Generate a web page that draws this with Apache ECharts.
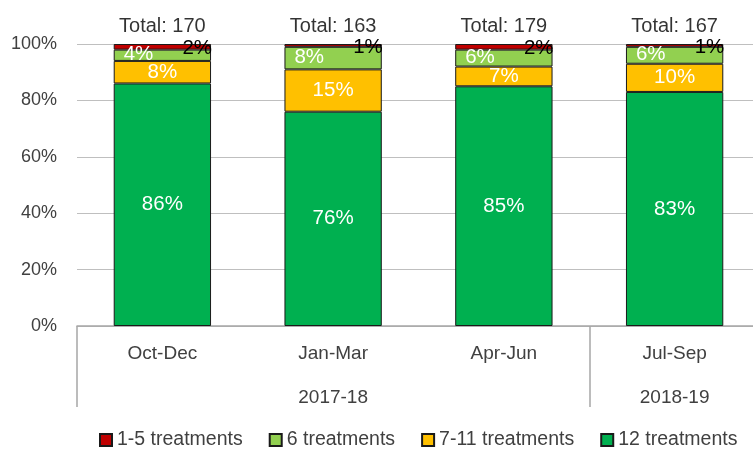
<!DOCTYPE html>
<html><head><meta charset="utf-8">
<script src="https://cdn.jsdelivr.net/npm/echarts@6/dist/echarts.min.js"></script>
<style>html,body{margin:0;padding:0;background:#fff}#c{width:753px;height:450px}</style>
</head><body><div id="c"></div>
<script>
const quarters = ['Oct-Dec', 'Jan-Mar', 'Apr-Jun', 'Jul-Sep'];
const years = ['', '2017-18', '', '2018-19'];
const totals = [170, 163, 179, 167];
const s12 = [86, 76, 85, 83];
const s7_11 = [8, 15, 7, 10];
const s6 = [4, 8, 6, 6];
const s1_5 = [2, 1, 2, 1];
const yTicks = [0, 20, 40, 60, 80, 100];

const FONT = 'Liberation Sans';
const chart = echarts.init(document.getElementById('c'), null, {renderer: 'canvas'});
const border = {borderColor: '#1a1a1a', borderWidth: 1};
chart.setOption({
  animation: false,
  textStyle: {fontFamily: FONT},
  grid: {left: 77, width: 683, top: 44, bottom: 124, outerBoundsMode: 'none', containLabel: false},
  legend: {
    bottom: 0, left: 99, padding: 0, itemGap: 26, itemWidth: 12, itemHeight: 12, icon: 'rect',
    data: ['1-5 treatments', '6 treatments', '7-11 treatments', '12 treatments'],
    textStyle: {fontSize: 19.5, color: '#404040', fontFamily: FONT, padding: [0,0,0,0]}
  },
  xAxis: [{
    type: 'category', data: quarters, position: 'bottom',
    axisLine: {lineStyle: {color: '#A6A6A6', width: 1.5}},
    axisTick: {show: true, length: 81, lineStyle: {color: '#A6A6A6', width: 1.5},
      interval: function (i) { return i === 0 || i === 3; }},
    axisLabel: {fontSize: 19, color: '#404040', margin: 18, fontFamily: FONT}
  }, {
    type: 'category', data: years, position: 'bottom', offset: 44,
    axisLine: {show: false}, axisTick: {show: false},
    axisLabel: {fontSize: 19, color: '#404040', margin: 18, interval: 0, fontFamily: FONT}
  }],
  yAxis: {
    type: 'value', min: yTicks[0], max: yTicks[yTicks.length - 1], interval: 20,
    axisLine: {show: false}, axisTick: {show: false},
    splitLine: {lineStyle: {color: '#BFBFBF', width: 1.2}},
    axisLabel: {formatter: '{value}%', fontSize: 18, color: '#404040', margin: 20, fontFamily: FONT}
  },
  series: [
    {name: '12 treatments', type: 'bar', stack: 't', barWidth: '57%', data: s12,
      itemStyle: Object.assign({color: '#00B050'}, border),
      label: {show: true, position: 'inside', formatter: '{c}%', color: '#fff', fontSize: 20.5, fontFamily: FONT}},
    {name: '7-11 treatments', type: 'bar', stack: 't', data: s7_11,
      itemStyle: Object.assign({color: '#FFC000'}, border),
      label: {show: true, position: 'inside', formatter: '{c}%', color: '#fff', fontSize: 20.5, fontFamily: FONT}},
    {name: '6 treatments', type: 'bar', stack: 't', data: s6,
      itemStyle: Object.assign({color: '#92D050'}, border),
      label: {show: true, position: 'insideLeft', distance: 10, offset: [0, -1], formatter: '{c}%', color: '#fff', fontSize: 20.5, fontFamily: FONT}},
    {name: '1-5 treatments', type: 'bar', stack: 't', data: s1_5,
      itemStyle: Object.assign({color: '#C00000'}, border),
      label: {show: true, position: 'insideRight', distance: 0, offset: [1, 2], formatter: '{c}%', color: '#000', fontSize: 20.5, fontFamily: FONT}},
    {name: 'Total', type: 'scatter', symbolSize: 0, silent: true,
      data: totals.map(function () { return 100; }),
      label: {show: true, position: 'top', distance: 8, color: '#000', fontSize: 20, fontFamily: FONT,
        formatter: function (p) { return 'Total: ' + totals[p.dataIndex]; }}}
  ]
});
</script></body></html>
